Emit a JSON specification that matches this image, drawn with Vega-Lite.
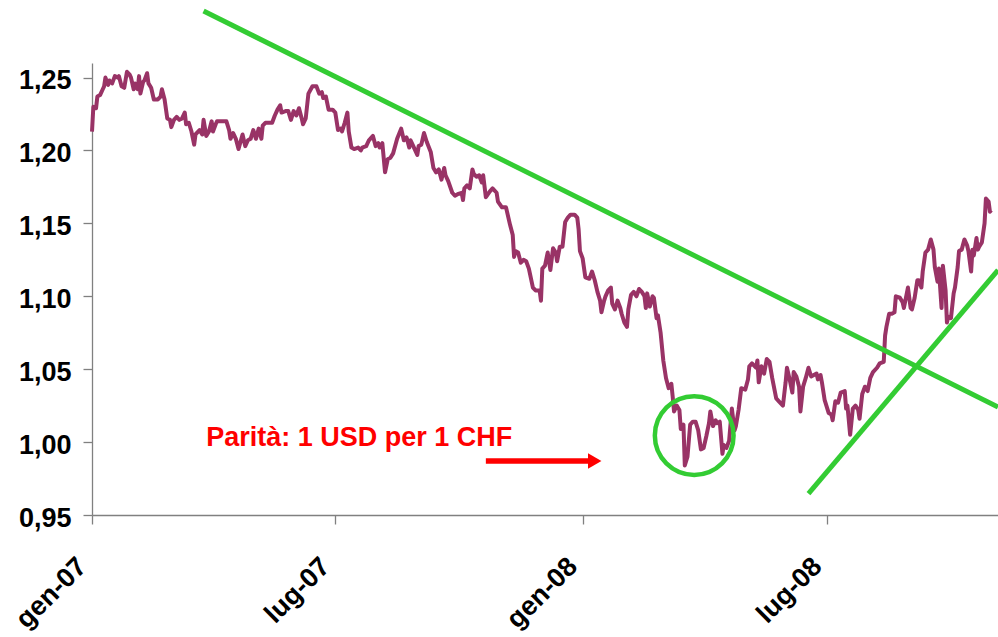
{
  "$schema": "https://vega.github.io/schema/vega-lite/v6.json",
  "width": 906,
  "height": 452,
  "autosize": {"type": "none"},
  "padding": {"left": 92, "top": 63, "right": 0, "bottom": 122},
  "background": "white",
  "config": {
    "view": {"stroke": null},
    "axis": {
      "grid": false,
      "labelFont": "Liberation Sans",
      "labelFontWeight": "bold",
      "labelFontSize": 27,
      "labelColor": "#000000",
      "domainColor": "#808080",
      "domainWidth": 1.3,
      "tickColor": "#808080",
      "tickWidth": 1.3,
      "tickSize": 9,
      "title": null,
      "labelOverlap": false
    }
  },
  "datasets": {
    "fx": [
      {"date":"2007-01-01","value":1.213},{"date":"2007-01-02","value":1.230},{"date":"2007-01-04","value":1.229},{"date":"2007-01-05","value":1.237},{"date":"2007-01-07","value":1.238},{"date":"2007-01-09","value":1.242},{"date":"2007-01-10","value":1.244},{"date":"2007-01-11","value":1.250},{"date":"2007-01-13","value":1.245},{"date":"2007-01-14","value":1.248},{"date":"2007-01-16","value":1.246},{"date":"2007-01-18","value":1.251},{"date":"2007-01-20","value":1.250},{"date":"2007-01-21","value":1.251},{"date":"2007-01-23","value":1.244},{"date":"2007-01-25","value":1.243},{"date":"2007-01-27","value":1.254},{"date":"2007-01-29","value":1.252},{"date":"2007-01-30","value":1.250},
      {"date":"2007-02-01","value":1.242},{"date":"2007-02-02","value":1.246},{"date":"2007-02-04","value":1.242},{"date":"2007-02-05","value":1.251},{"date":"2007-02-06","value":1.239},{"date":"2007-02-08","value":1.247},{"date":"2007-02-09","value":1.248},{"date":"2007-02-11","value":1.253},{"date":"2007-02-12","value":1.246},{"date":"2007-02-14","value":1.243},{"date":"2007-02-16","value":1.235},{"date":"2007-02-19","value":1.235},{"date":"2007-02-21","value":1.237},{"date":"2007-02-22","value":1.242},{"date":"2007-02-24","value":1.235},{"date":"2007-02-26","value":1.222},{"date":"2007-02-28","value":1.221},
      {"date":"2007-03-01","value":1.216},{"date":"2007-03-03","value":1.221},{"date":"2007-03-05","value":1.223},{"date":"2007-03-07","value":1.221},{"date":"2007-03-09","value":1.222},{"date":"2007-03-11","value":1.226},{"date":"2007-03-12","value":1.218},{"date":"2007-03-14","value":1.219},{"date":"2007-03-16","value":1.213},{"date":"2007-03-18","value":1.204},{"date":"2007-03-19","value":1.211},{"date":"2007-03-22","value":1.214},{"date":"2007-03-24","value":1.211},{"date":"2007-03-25","value":1.221},{"date":"2007-03-27","value":1.210},{"date":"2007-03-29","value":1.213},{"date":"2007-03-31","value":1.220},
      {"date":"2007-04-01","value":1.213},{"date":"2007-04-03","value":1.218},{"date":"2007-04-04","value":1.220},{"date":"2007-04-08","value":1.220},{"date":"2007-04-11","value":1.220},{"date":"2007-04-13","value":1.214},{"date":"2007-04-14","value":1.208},{"date":"2007-04-16","value":1.212},{"date":"2007-04-18","value":1.208},{"date":"2007-04-20","value":1.201},{"date":"2007-04-23","value":1.211},{"date":"2007-04-25","value":1.203},{"date":"2007-04-27","value":1.207},{"date":"2007-04-29","value":1.208},
      {"date":"2007-05-01","value":1.214},{"date":"2007-05-03","value":1.208},{"date":"2007-05-05","value":1.215},{"date":"2007-05-07","value":1.208},{"date":"2007-05-08","value":1.217},{"date":"2007-05-10","value":1.219},{"date":"2007-05-13","value":1.219},{"date":"2007-05-15","value":1.219},{"date":"2007-05-17","value":1.224},{"date":"2007-05-19","value":1.228},{"date":"2007-05-21","value":1.231},{"date":"2007-05-22","value":1.226},{"date":"2007-05-25","value":1.227},{"date":"2007-05-27","value":1.227},{"date":"2007-05-29","value":1.221},{"date":"2007-05-31","value":1.227},
      {"date":"2007-06-02","value":1.224},{"date":"2007-06-04","value":1.229},{"date":"2007-06-06","value":1.222},{"date":"2007-06-07","value":1.218},{"date":"2007-06-09","value":1.222},{"date":"2007-06-11","value":1.239},{"date":"2007-06-14","value":1.244},{"date":"2007-06-17","value":1.244},{"date":"2007-06-19","value":1.239},{"date":"2007-06-21","value":1.240},{"date":"2007-06-22","value":1.236},{"date":"2007-06-24","value":1.237},{"date":"2007-06-26","value":1.228},{"date":"2007-06-29","value":1.228},
      {"date":"2007-07-01","value":1.226},{"date":"2007-07-03","value":1.214},{"date":"2007-07-05","value":1.215},{"date":"2007-07-06","value":1.213},{"date":"2007-07-08","value":1.219},{"date":"2007-07-10","value":1.226},{"date":"2007-07-11","value":1.213},{"date":"2007-07-13","value":1.202},{"date":"2007-07-15","value":1.201},{"date":"2007-07-18","value":1.202},{"date":"2007-07-20","value":1.200},{"date":"2007-07-21","value":1.202},{"date":"2007-07-24","value":1.203},{"date":"2007-07-26","value":1.207},{"date":"2007-07-29","value":1.210},{"date":"2007-07-31","value":1.203},
      {"date":"2007-08-02","value":1.205},{"date":"2007-08-03","value":1.202},{"date":"2007-08-05","value":1.205},{"date":"2007-08-07","value":1.185},{"date":"2007-08-09","value":1.194},{"date":"2007-08-11","value":1.195},{"date":"2007-08-13","value":1.198},{"date":"2007-08-16","value":1.208},{"date":"2007-08-19","value":1.215},{"date":"2007-08-21","value":1.207},{"date":"2007-08-23","value":1.209},{"date":"2007-08-25","value":1.202},{"date":"2007-08-26","value":1.207},{"date":"2007-08-28","value":1.203},{"date":"2007-08-31","value":1.197},
      {"date":"2007-09-01","value":1.203},{"date":"2007-09-03","value":1.204},{"date":"2007-09-05","value":1.212},{"date":"2007-09-07","value":1.206},{"date":"2007-09-10","value":1.199},{"date":"2007-09-12","value":1.188},{"date":"2007-09-14","value":1.185},{"date":"2007-09-16","value":1.187},{"date":"2007-09-18","value":1.180},{"date":"2007-09-20","value":1.188},{"date":"2007-09-21","value":1.183},{"date":"2007-09-23","value":1.179},{"date":"2007-09-26","value":1.171},{"date":"2007-09-28","value":1.169},{"date":"2007-09-30","value":1.170},
      {"date":"2007-10-03","value":1.171},{"date":"2007-10-04","value":1.166},{"date":"2007-10-05","value":1.174},{"date":"2007-10-07","value":1.176},{"date":"2007-10-09","value":1.174},{"date":"2007-10-11","value":1.187},{"date":"2007-10-12","value":1.184},{"date":"2007-10-14","value":1.182},{"date":"2007-10-16","value":1.183},{"date":"2007-10-18","value":1.178},{"date":"2007-10-19","value":1.183},{"date":"2007-10-21","value":1.168},{"date":"2007-10-24","value":1.172},{"date":"2007-10-26","value":1.174},{"date":"2007-10-29","value":1.171},{"date":"2007-10-30","value":1.165},
      {"date":"2007-11-02","value":1.161},{"date":"2007-11-05","value":1.161},{"date":"2007-11-08","value":1.149},{"date":"2007-11-10","value":1.142},{"date":"2007-11-11","value":1.127},{"date":"2007-11-12","value":1.131},{"date":"2007-11-14","value":1.130},{"date":"2007-11-16","value":1.123},{"date":"2007-11-18","value":1.125},{"date":"2007-11-20","value":1.124},{"date":"2007-11-22","value":1.119},{"date":"2007-11-25","value":1.106},{"date":"2007-11-27","value":1.104},{"date":"2007-11-30","value":1.104},
      {"date":"2007-12-01","value":1.097},{"date":"2007-12-02","value":1.119},{"date":"2007-12-04","value":1.121},{"date":"2007-12-06","value":1.130},{"date":"2007-12-08","value":1.118},{"date":"2007-12-10","value":1.133},{"date":"2007-12-12","value":1.130},{"date":"2007-12-13","value":1.124},{"date":"2007-12-15","value":1.134},{"date":"2007-12-17","value":1.134},{"date":"2007-12-19","value":1.151},{"date":"2007-12-21","value":1.154},{"date":"2007-12-23","value":1.156},{"date":"2007-12-26","value":1.156},{"date":"2007-12-28","value":1.154},{"date":"2007-12-29","value":1.146},{"date":"2007-12-30","value":1.131},
      {"date":"2008-01-01","value":1.126},{"date":"2008-01-03","value":1.113},{"date":"2008-01-06","value":1.112},{"date":"2008-01-08","value":1.117},{"date":"2008-01-10","value":1.111},{"date":"2008-01-12","value":1.103},{"date":"2008-01-14","value":1.097},{"date":"2008-01-15","value":1.089},{"date":"2008-01-17","value":1.097},{"date":"2008-01-18","value":1.100},{"date":"2008-01-20","value":1.104},{"date":"2008-01-22","value":1.106},{"date":"2008-01-23","value":1.095},{"date":"2008-01-25","value":1.091},{"date":"2008-01-27","value":1.097},{"date":"2008-01-29","value":1.092},{"date":"2008-01-30","value":1.088},
      {"date":"2008-02-01","value":1.082},{"date":"2008-02-03","value":1.079},{"date":"2008-02-04","value":1.091},{"date":"2008-02-06","value":1.101},{"date":"2008-02-08","value":1.103},{"date":"2008-02-10","value":1.100},{"date":"2008-02-12","value":1.105},{"date":"2008-02-14","value":1.103},{"date":"2008-02-16","value":1.100},{"date":"2008-02-17","value":1.092},{"date":"2008-02-18","value":1.102},{"date":"2008-02-20","value":1.093},{"date":"2008-02-22","value":1.100},{"date":"2008-02-23","value":1.099},{"date":"2008-02-25","value":1.085},{"date":"2008-02-26","value":1.087},{"date":"2008-02-28","value":1.075},
      {"date":"2008-03-01","value":1.056},{"date":"2008-03-03","value":1.044},{"date":"2008-03-05","value":1.037},{"date":"2008-03-07","value":1.040},{"date":"2008-03-08","value":1.031},{"date":"2008-03-09","value":1.021},{"date":"2008-03-11","value":1.025},{"date":"2008-03-13","value":1.022},{"date":"2008-03-14","value":1.009},{"date":"2008-03-16","value":1.012},{"date":"2008-03-17","value":0.984},{"date":"2008-03-19","value":0.990},{"date":"2008-03-21","value":1.012},{"date":"2008-03-23","value":1.014},{"date":"2008-03-25","value":1.014},{"date":"2008-03-27","value":1.008},{"date":"2008-03-29","value":0.995},{"date":"2008-03-31","value":0.996},
      {"date":"2008-04-02","value":1.004},{"date":"2008-04-04","value":1.013},{"date":"2008-04-05","value":1.021},{"date":"2008-04-07","value":1.011},{"date":"2008-04-09","value":1.015},{"date":"2008-04-10","value":1.013},{"date":"2008-04-12","value":1.014},{"date":"2008-04-14","value":0.992},{"date":"2008-04-15","value":0.998},{"date":"2008-04-17","value":0.996},{"date":"2008-04-19","value":1.001},{"date":"2008-04-21","value":1.023},{"date":"2008-04-23","value":1.008},{"date":"2008-04-24","value":1.011},{"date":"2008-04-26","value":1.022},{"date":"2008-04-28","value":1.037},
      {"date":"2008-05-01","value":1.036},{"date":"2008-05-03","value":1.043},{"date":"2008-05-04","value":1.052},{"date":"2008-05-06","value":1.054},{"date":"2008-05-09","value":1.051},{"date":"2008-05-10","value":1.056},{"date":"2008-05-11","value":1.041},{"date":"2008-05-13","value":1.052},{"date":"2008-05-15","value":1.047},{"date":"2008-05-17","value":1.057},{"date":"2008-05-19","value":1.055},{"date":"2008-05-21","value":1.044},{"date":"2008-05-24","value":1.030},{"date":"2008-05-26","value":1.028},{"date":"2008-05-29","value":1.025},{"date":"2008-05-31","value":1.041},
      {"date":"2008-06-01","value":1.051},{"date":"2008-06-03","value":1.043},{"date":"2008-06-05","value":1.034},{"date":"2008-06-06","value":1.048},{"date":"2008-06-08","value":1.045},{"date":"2008-06-10","value":1.038},{"date":"2008-06-11","value":1.021},{"date":"2008-06-13","value":1.038},{"date":"2008-06-15","value":1.044},{"date":"2008-06-17","value":1.051},{"date":"2008-06-19","value":1.045},{"date":"2008-06-21","value":1.046},{"date":"2008-06-23","value":1.047},{"date":"2008-06-24","value":1.043},{"date":"2008-06-26","value":1.046},{"date":"2008-06-27","value":1.041},{"date":"2008-06-29","value":1.029},
      {"date":"2008-07-02","value":1.020},{"date":"2008-07-04","value":1.019},{"date":"2008-07-05","value":1.015},{"date":"2008-07-07","value":1.028},{"date":"2008-07-09","value":1.027},{"date":"2008-07-11","value":1.034},{"date":"2008-07-14","value":1.035},{"date":"2008-07-15","value":1.023},{"date":"2008-07-16","value":1.025},{"date":"2008-07-18","value":1.005},{"date":"2008-07-20","value":1.023},{"date":"2008-07-22","value":1.025},{"date":"2008-07-24","value":1.022},{"date":"2008-07-25","value":1.016},{"date":"2008-07-27","value":1.033},{"date":"2008-07-29","value":1.038},{"date":"2008-07-31","value":1.035},
      {"date":"2008-08-02","value":1.044},{"date":"2008-08-04","value":1.048},{"date":"2008-08-07","value":1.051},{"date":"2008-08-09","value":1.054},{"date":"2008-08-12","value":1.055},{"date":"2008-08-13","value":1.073},{"date":"2008-08-14","value":1.079},{"date":"2008-08-16","value":1.088},{"date":"2008-08-18","value":1.088},{"date":"2008-08-20","value":1.089},{"date":"2008-08-21","value":1.100},{"date":"2008-08-24","value":1.099},{"date":"2008-08-26","value":1.096},{"date":"2008-08-27","value":1.092},{"date":"2008-08-30","value":1.106},
      {"date":"2008-09-01","value":1.092},{"date":"2008-09-02","value":1.091},{"date":"2008-09-04","value":1.099},{"date":"2008-09-06","value":1.111},{"date":"2008-09-07","value":1.111},{"date":"2008-09-09","value":1.106},{"date":"2008-09-10","value":1.117},{"date":"2008-09-12","value":1.130},{"date":"2008-09-14","value":1.132},{"date":"2008-09-16","value":1.139},{"date":"2008-09-18","value":1.132},{"date":"2008-09-19","value":1.120},{"date":"2008-09-21","value":1.110},{"date":"2008-09-22","value":1.119},{"date":"2008-09-24","value":1.092},{"date":"2008-09-25","value":1.121},{"date":"2008-09-27","value":1.104},{"date":"2008-09-28","value":1.082},{"date":"2008-09-29","value":1.086},
      {"date":"2008-10-01","value":1.085},{"date":"2008-10-03","value":1.102},{"date":"2008-10-04","value":1.106},{"date":"2008-10-06","value":1.120},{"date":"2008-10-07","value":1.131},{"date":"2008-10-09","value":1.132},{"date":"2008-10-11","value":1.139},{"date":"2008-10-13","value":1.135},{"date":"2008-10-14","value":1.131},{"date":"2008-10-16","value":1.117},{"date":"2008-10-17","value":1.132},{"date":"2008-10-18","value":1.128},{"date":"2008-10-20","value":1.140},{"date":"2008-10-21","value":1.132},{"date":"2008-10-22","value":1.134},{"date":"2008-10-24","value":1.137},{"date":"2008-10-26","value":1.150},{"date":"2008-10-27","value":1.167},{"date":"2008-10-29","value":1.165},{"date":"2008-10-30","value":1.158},{"date":"2008-10-31","value":1.159}
    ],
    "trend": [
      {"line":"resistenza","date":"2007-03-25","value":1.2957},
      {"line":"resistenza","date":"2008-11-05","value":1.0241},
      {"line":"supporto","date":"2008-06-17","value":0.9647},
      {"line":"supporto","date":"2008-11-05","value":1.118}
    ],
    "circle": [{"date":"2008-03-24","value":1.0045}],
    "label": [{"date":"2007-03-27","value":0.9975,"text":"Parità: 1 USD per 1 CHF"}],
    "arrow": [{"date":"2007-10-21","date2":"2008-01-06","value":0.987}],
    "head": [{"date":"2008-01-10","value":0.987}]
  },
  "encoding": {
    "x": {
      "field": "date",
      "type": "temporal",
      "scale": {
        "type": "utc",
        "domain": [{"year":2007,"month":1,"date":1,"utc":true},{"year":2008,"month":11,"date":5,"utc":true}],
        "nice": false
      },
      "axis": {
        "values": [{"year":2007,"month":1,"date":1,"utc":true},{"year":2007,"month":7,"date":1,"utc":true},{"year":2008,"month":1,"date":1,"utc":true},{"year":2008,"month":7,"date":1,"utc":true}],
        "labelExpr": "(utcFormat(datum.value, '%m') == '01' ? 'gen-' : 'lug-') + utcFormat(datum.value, '%y')",
        "labelAngle": -45,
        "labelAlign": "right",
        "labelBaseline": "middle",
        "labelPadding": 38,
        "labelOffset": -10
      }
    },
    "y": {
      "field": "value",
      "type": "quantitative",
      "scale": {"domain": [0.95, 1.26], "nice": false, "zero": false},
      "axis": {
        "values": [0.95, 1.0, 1.05, 1.1, 1.15, 1.2, 1.25],
        "labelExpr": "replace(format(datum.value, '.2f'), '.', ',')",
        "labelPadding": 12,
        "labelBaseline": "middle",
        "labelOffset": 3
      }
    }
  },
  "layer": [
    {
      "data": {"name": "fx"},
      "mark": {"type": "line", "color": "#993366", "strokeWidth": 4, "strokeJoin": "round"}
    },
    {
      "data": {"name": "trend"},
      "mark": {"type": "line", "color": "#33cc33", "strokeWidth": 5, "clip": false, "strokeCap": "butt"},
      "encoding": {"detail": {"field": "line", "type": "nominal"}}
    },
    {
      "data": {"name": "circle"},
      "mark": {"type": "point", "shape": "circle", "filled": false, "stroke": "#33cc33", "strokeWidth": 4.5, "size": 6200, "opacity": 1}
    },
    {
      "data": {"name": "label"},
      "mark": {"type": "text", "align": "left", "baseline": "alphabetic", "font": "Liberation Sans", "fontWeight": "bold", "fontSize": 27, "color": "#ff0000"},
      "encoding": {"text": {"field": "text"}}
    },
    {
      "data": {"name": "arrow"},
      "mark": {"type": "rule", "color": "#ff0000", "strokeWidth": 5.5},
      "encoding": {"x2": {"field": "date2"}}
    },
    {
      "data": {"name": "head"},
      "mark": {"type": "point", "shape": "triangle-right", "filled": true, "color": "#ff0000", "size": 240, "opacity": 1}
    }
  ]
}
